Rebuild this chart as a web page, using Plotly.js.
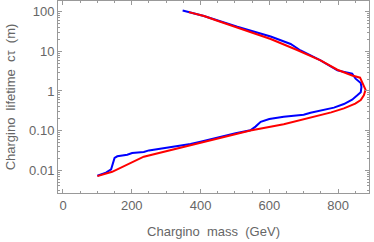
<!DOCTYPE html>
<html>
<head>
<meta charset="utf-8">
<script src="https://cdn.plot.ly/plotly-3.0.1.min.js"></script>
<style>html,body{margin:0;padding:0;background:#fff;}#chart{width:374px;height:242px;}</style>
</head>
<body>
<div id="chart"></div>
<script>
// Red curve: chargino mass (GeV) vs lifetime c*tau (m)
var redMass = [100, 143, 235, 320, 400, 480, 545, 642, 720, 780, 817, 850, 866, 875, 880, 864, 841, 798, 749, 681, 604, 507, 449, 410, 366];
var redCtau = [0.00708, 0.00912, 0.0219, 0.0331, 0.0501, 0.0741, 0.100, 0.145, 0.211, 0.288, 0.363, 0.479, 0.589, 0.776, 1.07, 2.16, 2.45, 3.43, 5.89, 10.8, 20.4, 38.5, 58.9, 77.6, 97.7];
// Blue curve
var blueMass = [100, 125, 140, 150, 158, 187, 201, 235, 250, 284, 322, 371, 400, 450, 502, 545, 560, 575, 600, 642, 700, 720, 788, 817, 841, 856, 866, 868, 866, 851, 841, 798, 749, 691, 676, 662, 604, 507, 410, 348];
var blueCtau = [0.00724, 0.00871, 0.0105, 0.0204, 0.0224, 0.0245, 0.0272, 0.0288, 0.0316, 0.0347, 0.0385, 0.0457, 0.0525, 0.0676, 0.0861, 0.102, 0.126, 0.166, 0.195, 0.224, 0.251, 0.282, 0.380, 0.468, 0.603, 0.776, 0.933, 1.26, 1.58, 2.04, 2.72, 3.31, 5.89, 10.5, 12.6, 15.3, 23.7, 41.7, 77.6, 107];
// Axis ticks
var xTicks = [0, 200, 400, 600, 800];
var yTickVals = [0.01, 0.1, 1, 10, 100];
var yTickText = ["0.01", "0.10", "1", "10", "100"];

var yMinor = [];
for (var d = -3; d <= 2; d++) {
  for (var k = 2; k <= 9; k++) { yMinor.push(k * Math.pow(10, d)); }
}

var axisColor = '#999999';
var textColor = '#666666';
var fontFam = '"Liberation Sans", Arial, sans-serif';

var traces = [
  {x: blueMass, y: blueCtau, mode: 'lines', line: {color: '#0000ff', width: 2}, hoverinfo: 'skip'},
  {x: redMass, y: redCtau, mode: 'lines', line: {color: '#ff0000', width: 2}, hoverinfo: 'skip'}
];

var layout = {
  width: 374, height: 242,
  margin: {l: 58, r: 5, t: 1, b: 49},
  paper_bgcolor: '#ffffff', plot_bgcolor: '#ffffff',
  showlegend: false,
  font: {family: fontFam, size: 13, color: textColor},
  xaxis: {
    range: [-14.5, 890], tickvals: xTicks, ticks: 'inside', ticklen: 4, tickcolor: axisColor,
    showline: true, linecolor: axisColor, linewidth: 1, mirror: 'allticks', showgrid: false, zeroline: false,
    minor: {dtick: 50, tick0: 0, ticks: 'inside', ticklen: 2, tickcolor: axisColor, showgrid: false},
    title: {text: 'Chargino\u00a0 mass\u00a0 (GeV)', font: {size: 13, color: textColor}, standoff: 15},
    tickfont: {size: 13, color: textColor}
  },
  yaxis: {
    type: 'log', range: [Math.log10(0.00266), 2.27], tickvals: yTickVals, ticktext: yTickText,
    ticks: 'inside', ticklen: 4, tickcolor: axisColor,
    showline: true, linecolor: axisColor, linewidth: 1, mirror: 'allticks', showgrid: false, zeroline: false,
    minor: {tickvals: yMinor, ticks: 'inside', ticklen: 2, tickcolor: axisColor, showgrid: false},
    title: {text: 'Chargino\u00a0 lifetime\u00a0 c\u03c4\u00a0 (m)', font: {size: 13, color: textColor}, standoff: 10},
    tickfont: {size: 13, color: textColor}
  }
};

Plotly.newPlot('chart', traces, layout, {displayModeBar: false, staticPlot: true});
</script>
</body>
</html>
